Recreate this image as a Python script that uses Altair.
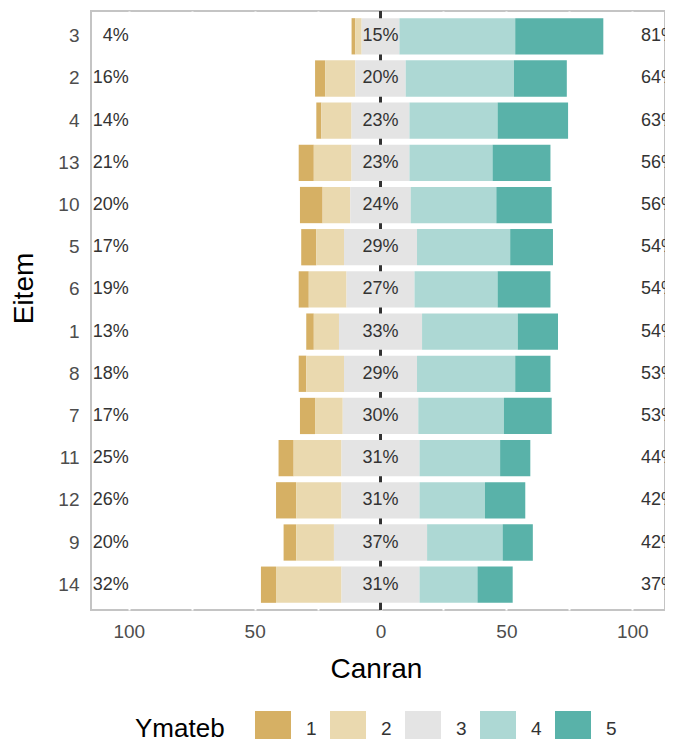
import altair as alt
import pandas as pd

# ---- data ----
items = ["3", "2", "4", "13", "10", "5", "6", "1", "8", "7", "11", "12", "9", "14"]
resp_1 = [1.5, 4, 2, 6, 9, 6, 4, 3, 3, 6, 6, 8, 5, 6]
resp_2 = [2.5, 12, 12, 15, 11, 11, 15, 10, 15, 11, 19, 18, 15, 26]
resp_3 = [15, 20, 23, 23, 24, 29, 27, 33, 29, 30, 31, 31, 37, 31]
resp_4 = [46, 43, 35, 33, 34, 37, 33, 38, 39, 34, 32, 26, 30, 23]
resp_5 = [35, 21, 28, 23, 22, 17, 21, 16, 14, 19, 12, 16, 12, 14]

low_labels = ["4%", "16%", "14%", "21%", "20%", "17%", "19%", "13%", "18%", "17%", "25%", "26%", "20%", "32%"]
mid_labels = ["15%", "20%", "23%", "23%", "24%", "29%", "27%", "33%", "29%", "30%", "31%", "31%", "37%", "31%"]
high_labels = ["81%", "64%", "63%", "56%", "56%", "54%", "54%", "54%", "53%", "53%", "44%", "42%", "42%", "37%"]

categories = ["1", "2", "3", "4", "5"]
colors = ["#D6B064", "#EAD9AF", "#E4E4E4", "#ADD8D4", "#59B2A9"]

# ---- build diverging segments ----
rows = []
for i, it in enumerate(items):
    h = resp_3[i] / 2
    segs = [
        ("1", -h - resp_2[i] - resp_1[i], -h - resp_2[i]),
        ("2", -h - resp_2[i], -h),
        ("3", -h, h),
        ("4", h, h + resp_4[i]),
        ("5", h + resp_4[i], h + resp_4[i] + resp_5[i]),
    ]
    for c, a, b in segs:
        rows.append({"item": it, "resp": c, "start": a, "end": b})
bars_df = pd.DataFrame(rows)
labels_df = pd.DataFrame({"item": items, "low": low_labels, "mid": mid_labels, "high": high_labels})

FONT = "Liberation Sans"
xscale = alt.Scale(domain=[-115, 113], nice=False, zero=False)
yscale = alt.Scale(domain=items, paddingInner=0.14, paddingOuter=0.17)

y_enc = alt.Y(
    "item:N", scale=yscale, sort=items, title="Eitem",
    axis=alt.Axis(
        labelFont=FONT, labelFontSize=19, labelColor="#4D4D4D", ticks=False, domain=False,
        labelPadding=12, titleFont=FONT, titleFontSize=28, titleFontWeight="normal",
        titleColor="#000000", titlePadding=19, titleY=277,
    ),
)

zero_rule = alt.Chart(labels_df).mark_rule(color="#333333", strokeWidth=1.5).encode(
    x=alt.datum(0)
)

bars = alt.Chart(bars_df).mark_bar(strokeWidth=0).encode(
    x=alt.X(
        "start:Q", scale=xscale, title="Canran",
        axis=alt.Axis(
            values=[-100, -75, -50, -25, 0, 25, 50, 75, 100],
            labelExpr="datum.value % 50 == 0 ? abs(datum.value) : ''",
            labelFont=FONT, labelFontSize=19, labelColor="#4D4D4D",
            ticks=False, domain=False, labelPadding=12,
            grid=True, gridColor="#FFFFFF", gridWidth=2,
            titleFont=FONT, titleFontSize=28, titleFontWeight="normal",
            titleColor="#000000", titlePadding=14, titleX=285,
        ),
    ),
    x2="end:Q",
    y=y_enc,
    color=alt.Color(
        "resp:N",
        scale=alt.Scale(domain=categories, range=colors),
        legend=alt.Legend(
            title="Ymateb", orient="none", legendX=44, legendY=700,
            direction="horizontal", titleOrient="left", titleAnchor="middle",
            titleBaseline="middle", titleFont=FONT, titleFontSize=26,
            titleFontWeight="normal", titleColor="#000000", titlePadding=30,
            labelFont=FONT, labelFontSize=19, labelColor="#333333",
            labelOffset=15, symbolType="square", symbolSize=1296,
            symbolStrokeWidth=0, columnPadding=13,
        ),
    ),
    order=alt.Order("resp:N"),
)

txt = dict(fontSize=18, font=FONT, color="#333333", baseline="middle")
low_t = alt.Chart(labels_df).mark_text(align="right", clip=True, **txt).encode(
    x=alt.datum(-100), y=alt.Y("item:N", scale=yscale, sort=items), text="low:N"
)
mid_t = alt.Chart(labels_df).mark_text(align="center", **txt).encode(
    x=alt.datum(0), y=alt.Y("item:N", scale=yscale, sort=items), text="mid:N"
)
high_t = alt.Chart(labels_df).mark_text(align="left", clip=True, **txt).encode(
    x=alt.datum(103.5), y=alt.Y("item:N", scale=yscale, sort=items), text="high:N"
)

chart = alt.layer(zero_rule, bars, low_t, mid_t, high_t).properties(
    width=574, height=599,
    padding={"left": 83, "top": 3, "right": 0, "bottom": 129},
    autosize=alt.AutoSizeParams(type="none"),
).configure_view(stroke="#C4C4C4", strokeWidth=2)

chart.save("out.html", embed_options={"renderer": "svg", "actions": False})
